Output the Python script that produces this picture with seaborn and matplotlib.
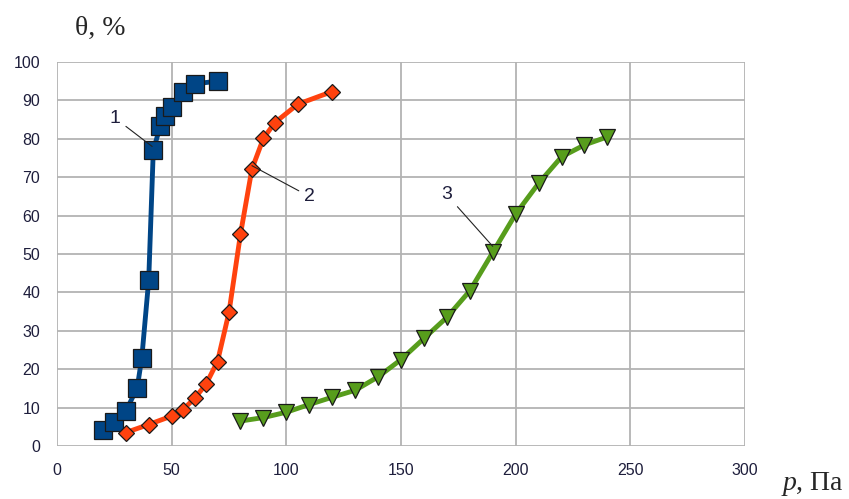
import matplotlib
matplotlib.use("Agg")
import matplotlib.pyplot as plt
import seaborn as sns
import pandas as pd

# curve 1 (blue squares)
p1 = [20, 25, 30, 35, 37, 40, 42, 45, 47, 50, 55, 60, 70]
t1 = [4.2, 6.3, 9.0, 15.2, 23.0, 43.2, 77.0, 83.2, 86.0, 88.4, 92.3, 94.3, 95.0]

# curve 2 (orange diamonds)
p2 = [30, 40, 50, 55, 60, 65, 70, 75, 80, 85, 90, 95, 105, 120]
t2 = [3.5, 5.6, 7.8, 9.5, 12.4, 16.1, 22.0, 34.8, 55.1, 72.1, 80.1, 84.2, 89.0, 92.3]

# curve 3 (green triangles)
p3 = [80, 90, 100, 110, 120, 130, 140, 150, 160, 170, 180, 190, 200, 210, 220, 230, 240]
t3 = [6.5, 7.4, 8.8, 10.8, 12.7, 14.5, 18.0, 22.5, 28.0, 33.5, 40.4, 50.4, 60.4, 68.4, 75.3, 78.4, 80.5]

x_ticks = [0, 50, 100, 150, 200, 250, 300]
y_ticks = [0, 10, 20, 30, 40, 50, 60, 70, 80, 90, 100]

sns.set_style("white")
plt.rcParams['font.family'] = ['Liberation Sans', 'DejaVu Sans']

fig = plt.figure(figsize=(8.49, 4.99), dpi=100)
ax = fig.add_axes([0.0671, 0.1062, 0.8104, 0.7696])

series = [
    (p1, t1, '#004586', 's', 13),
    (p2, t2, '#ff420e', 'D', 8.5),
    (p3, t3, '#579d1c', 'v', 11.5),
]
for xs, ys, col, mk, ms in series:
    df = pd.DataFrame({'p': xs, 'theta': ys})
    sns.lineplot(data=df, x='p', y='theta', ax=ax, color=col, lw=3.5,
                 marker=mk, markersize=ms, markeredgecolor='#1a1a1a',
                 markeredgewidth=0.9, sort=False, zorder=3)

ax.set_xlim(0, 300)
ax.set_ylim(0, 100)
ax.set_xticks(x_ticks)
ax.set_yticks(y_ticks)
ax.grid(True, color='#b3b3b3', lw=1.3)
for s in ax.spines.values():
    s.set_visible(False)
ax.tick_params(axis='both', which='both', length=8, width=1.3, color='#b3b3b3',
               labelsize=11.5, labelcolor='#1e1e3c', pad=4)
ax.set_xlabel('')
ax.set_ylabel('')

ann = dict(arrowstyle='-', color='#222222', lw=0.8, shrinkA=2, shrinkB=0)
ax.annotate('1', xy=(41.5, 78), xytext=(25.3, 85.4), fontsize=14, color='#1e1e3c',
            ha='center', va='center', arrowprops=ann)
ax.annotate('2', xy=(85, 73), xytext=(110.3, 64.9), fontsize=14, color='#1e1e3c',
            ha='center', va='center', arrowprops=ann)
ax.annotate('3', xy=(190, 52), xytext=(170, 65.4), fontsize=14, color='#1e1e3c',
            ha='center', va='center', arrowprops=ann)

fig.text(100 / 849, 1 - 28 / 499, 'θ, %', family=['Liberation Serif', 'DejaVu Serif'],
         fontsize=20, ha='center', va='center')
fig.text(783 / 849, 1 - 490 / 499, 'p', family=['Liberation Serif', 'DejaVu Serif'],
         style='italic', fontsize=20, ha='left', va='baseline')
fig.text(796 / 849, 1 - 490 / 499, ', Па', family=['Liberation Serif', 'DejaVu Serif'],
         fontsize=20, ha='left', va='baseline')

fig.savefig('out.png', dpi=100)
